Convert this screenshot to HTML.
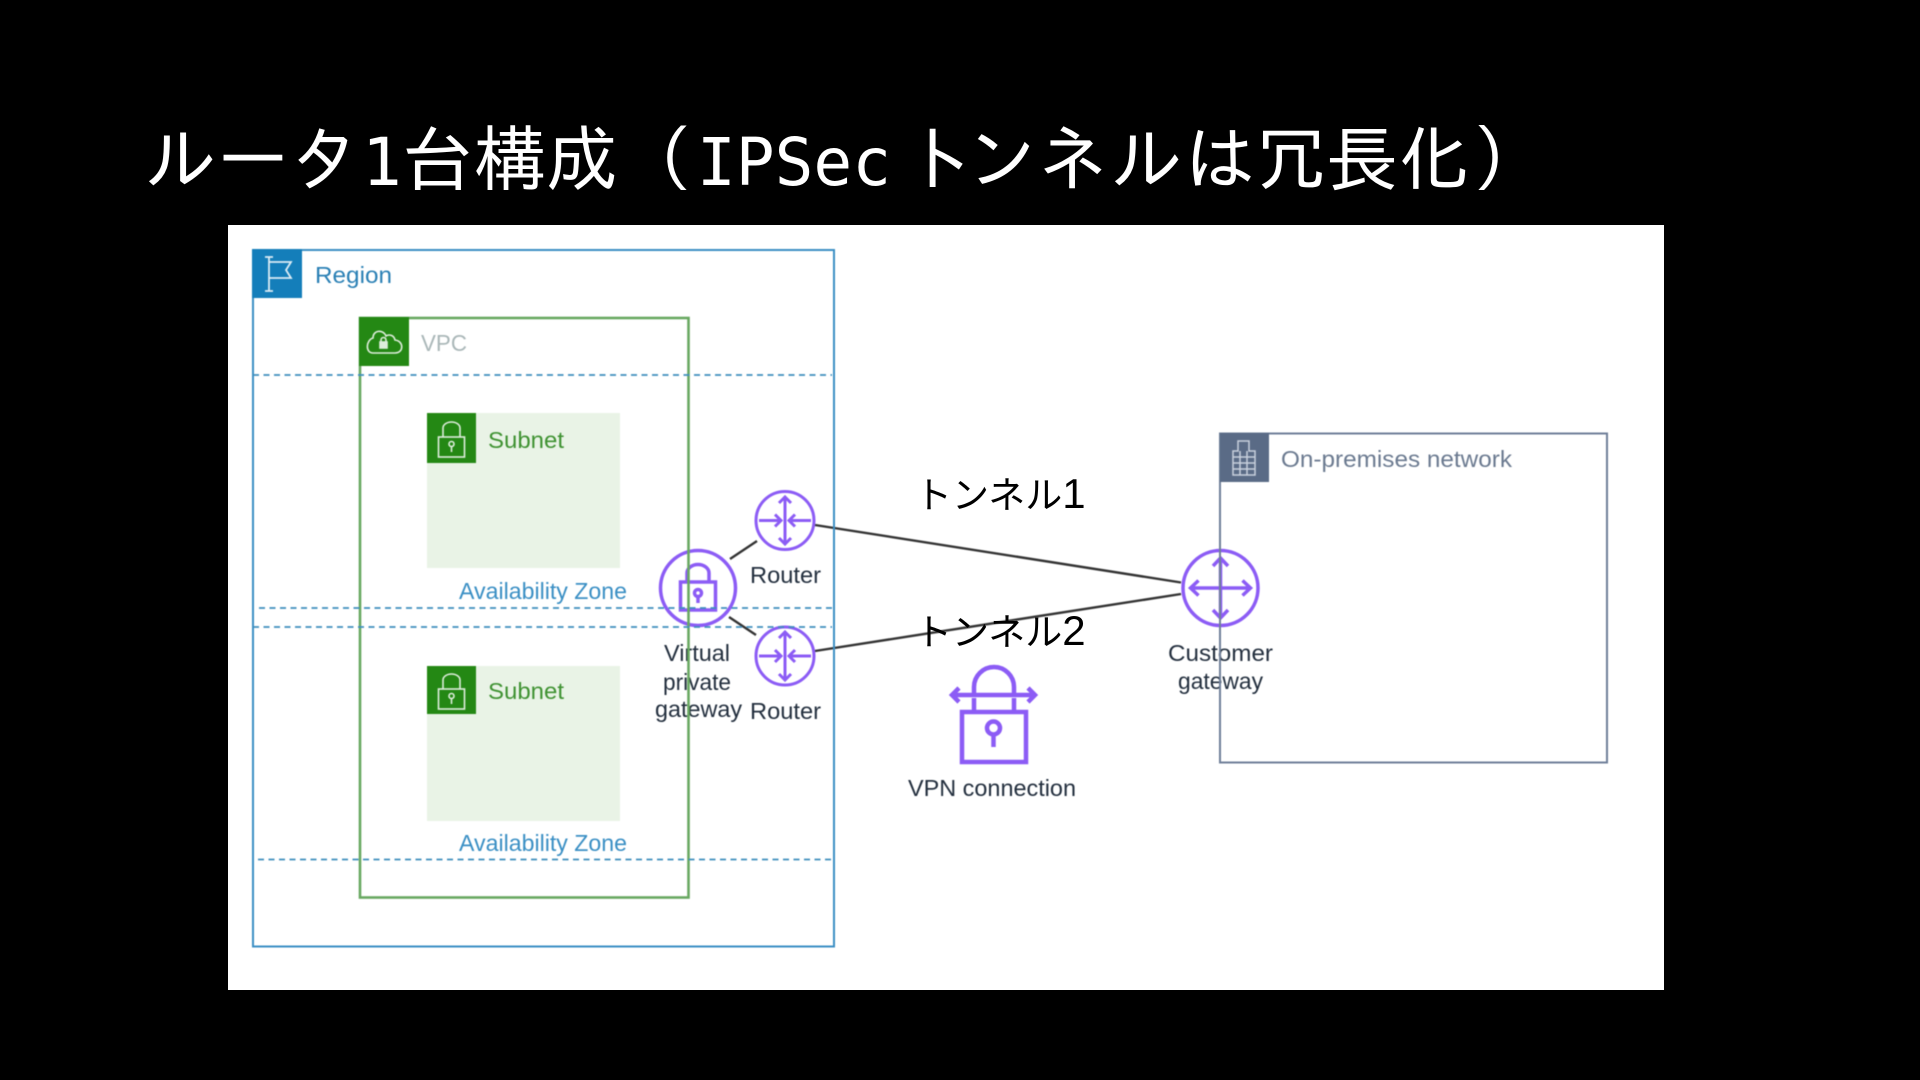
<!DOCTYPE html>
<html lang="ja">
<head>
<meta charset="utf-8">
<title>ルータ1台構成</title>
<style>
html,body{margin:0;padding:0;background:#000;width:1920px;height:1080px;overflow:hidden}
svg{display:block}
.t{font-family:"IPAGothic","Noto Sans CJK JP",sans-serif;font-size:72px;fill:#fff}
.m{font-family:"DejaVu Sans Mono",monospace;font-size:66px;fill:#fff}
.s{font-family:"Liberation Sans",sans-serif;font-size:23.5px}
.k{font-family:"Liberation Sans","Noto Sans CJK JP",sans-serif;font-size:37px;fill:#000}
.d{fill:#232f3e}
.p{fill:none;stroke:#8c5cf5;stroke-width:3}
.w{fill:none;stroke:#fff;stroke-width:1.6;opacity:.85}
</style>
</head>
<body>
<svg width="1920" height="1080" viewBox="0 0 1920 1080" xmlns="http://www.w3.org/2000/svg">
<rect width="1920" height="1080" fill="#000"/>

<!-- Title -->
<text class="t" x="145" y="185">ルータ</text>
<text class="m" x="362" y="185">1</text>
<text class="t" x="402" y="185">台構成</text>
<text class="t" x="620" y="185">（</text>
<text class="m" x="697" y="185" textLength="194" lengthAdjust="spacingAndGlyphs">IPSec</text>
<text class="t" x="904" y="185">ト</text>
<text class="t" x="966" y="185">ン</text>
<text class="t" x="1036" y="185">ネ</text>
<text class="t" x="1111" y="185">ル</text>
<text class="t" x="1184" y="185">は</text>
<text class="t" x="1255" y="185">冗</text>
<text class="t" x="1326" y="185">長</text>
<text class="t" x="1398" y="185">化</text>
<text class="t" x="1473" y="185">)</text>

<!-- Panel -->
<rect x="228" y="225" width="1436" height="765" fill="#fff"/>

<g style="filter:blur(.6px)">
<!-- Subnets -->
<rect x="427" y="413" width="193" height="155" fill="#e9f3e6"/>
<rect x="427" y="666" width="193" height="155" fill="#e9f3e6"/>

<!-- Labels under lines -->
<g class="s">
<text x="315" y="283" fill="#2a80b5" textLength="77" lengthAdjust="spacingAndGlyphs">Region</text>
<text x="421" y="351" fill="#aab7b8" textLength="46" lengthAdjust="spacingAndGlyphs">VPC</text>
<text x="488" y="448" fill="#3f9232" textLength="76" lengthAdjust="spacingAndGlyphs">Subnet</text>
<text x="488" y="699" fill="#3f9232" textLength="76" lengthAdjust="spacingAndGlyphs">Subnet</text>
<text x="459" y="599" fill="#3a8fc4" textLength="168" lengthAdjust="spacingAndGlyphs">Availability Zone</text>
<text x="459" y="851" fill="#3a8fc4" textLength="168" lengthAdjust="spacingAndGlyphs">Availability Zone</text>
<text x="1281" y="467" fill="#6b7a90" textLength="231" lengthAdjust="spacingAndGlyphs">On-premises network</text>
<text class="d" x="750" y="583" textLength="71" lengthAdjust="spacingAndGlyphs">Router</text>
<text class="d" x="750" y="719" textLength="71" lengthAdjust="spacingAndGlyphs">Router</text>
<text class="d" x="664" y="661" textLength="66" lengthAdjust="spacingAndGlyphs">Virtual</text>
<text class="d" x="663" y="690" textLength="68" lengthAdjust="spacingAndGlyphs">private</text>
<text class="d" x="655" y="717" textLength="87" lengthAdjust="spacingAndGlyphs">gateway</text>
<text class="d" x="1168" y="661" textLength="105" lengthAdjust="spacingAndGlyphs">Customer</text>
<text class="d" x="1178" y="689" textLength="85" lengthAdjust="spacingAndGlyphs">gateway</text>
<text class="d" x="908" y="796" textLength="168" lengthAdjust="spacingAndGlyphs">VPN connection</text>
</g>

<!-- Connectors -->
<g stroke="#333" stroke-width="2.4" fill="none">
<line x1="815" y1="525" x2="1181" y2="582.5"/>
<line x1="815" y1="651" x2="1181" y2="594"/>
<line x1="730" y1="559" x2="757" y2="541"/>
<line x1="729" y1="617" x2="756" y2="635"/>
</g>

<!-- Routers -->
<g class="p">
<circle cx="785" cy="520.5" r="29"/>
<path d="M785 497V544M779 503l6-6 6 6M779 538l6 6 6-6"/>
<path d="M759 520.5H781M775 514.5l6 6-6 6M811 520.5H789M795 514.5l-6 6 6 6"/>
<circle cx="785" cy="656" r="29"/>
<path d="M785 632V680M779 638l6-6 6 6M779 674l6 6 6-6"/>
<path d="M759 656H781M775 650l6 6-6 6M811 656H789M795 650l-6 6 6 6"/>
</g>

<!-- VPG -->
<g class="p" style="stroke-width:3.5">
<circle cx="698" cy="588" r="37.5"/>
<rect x="680.500" y="582" width="35" height="28"/>
<path d="M687 582V573a11 8.500 0 0 1 22 0V582"/>
<circle cx="698" cy="593" r="3.500"/>
<path d="M698 596.500V603"/>
</g>

<!-- CGW -->
<g class="p" style="stroke-width:3.5">
<circle cx="1220.500" cy="588" r="37.500"/>
<path d="M1220.500 558V618M1213 566l7.500-8 7.500 8M1213 610l7.500 8 7.500-8"/>
<path d="M1190.500 588H1250.500M1198.500 580.500l-8 7.500 8 7.500M1242.500 580.500l8 7.500-8 7.500"/>
</g>

<!-- VPN icon -->
<g class="p" style="stroke-width:4.500">
<rect x="962" y="712" width="64" height="50"/>
<circle cx="993.500" cy="728" r="6.500"/>
<path d="M993.500 734.500V747"/>
<path d="M952 695H1035M959 688l-7 7 7 7M1028 688l7 7-7 7"/>
<path d="M974 693V687a20 20 0 0 1 40 0V693M974 698V711M1014 698V711"/>
</g>

<!-- Containers -->
<rect x="253" y="250" width="581" height="696.500" fill="none" stroke="#3b8fc4" stroke-width="2"/>
<rect x="360" y="318" width="328.500" height="579.500" fill="none" stroke="#68a860" stroke-width="2.600"/>
<rect x="1220" y="433.500" width="387" height="329" fill="none" stroke="#6f7f99" stroke-width="2"/>

<!-- Dashed AZ lines -->
<g stroke="#3f8fbd" stroke-width="1.800" stroke-dasharray="6 4.500" fill="none">
<line x1="253" y1="375" x2="832" y2="375"/>
<line x1="259" y1="608" x2="834" y2="608"/>
<line x1="253" y1="627" x2="832" y2="627"/>
<line x1="258" y1="859.500" x2="834" y2="859.500"/>
</g>

<!-- Region icon -->
<rect x="252" y="249" width="50" height="49" fill="#147eba"/>
<g class="w" style="stroke-width:1.800">
<path d="M269 257V291M265 291H273M265 257H273M269 262H291L286 270 291 278H269"/>
</g>

<!-- VPC icon -->
<rect x="359" y="317" width="50" height="49" fill="#248814"/>
<g class="w">
<path d="M373 353H395C404 353 404 341 395 340 394 335 389 334 386 336 383 329 373 330 373 338 366 340 365 353 373 353Z"/>
<rect x="380" y="342" width="7" height="6" fill="#fff"/>
<path d="M381 342V340a2.500 2.500 0 0 1 5 0V342"/>
</g>

<!-- Subnet icons -->
<rect x="427" y="413" width="49" height="50" fill="#248814"/>
<g class="w">
<rect x="438.500" y="437" width="26" height="20"/>
<path d="M443 437V428a8.500 6 0 0 1 17 0V437"/>
<circle cx="451.500" cy="444" r="2.500"/><path d="M451.500 446.500V452"/>
</g>
<rect x="427" y="666" width="49" height="48" fill="#248814"/>
<g class="w">
<rect x="438.500" y="689" width="26" height="20"/>
<path d="M443 689V680a8.500 6 0 0 1 17 0V689"/>
<circle cx="451.500" cy="696" r="2.500"/><path d="M451.500 698.500V704"/>
</g>

<!-- On-premises icon -->
<rect x="1220" y="433" width="49" height="49" fill="#5a6b86"/>
<g fill="none" stroke="#c8d0dc" stroke-width="1.500">
<path d="M1233 475V451H1238V441H1249V451H1255V475Z"/>
<path d="M1233 457H1255M1233 463H1255M1233 469H1255M1240 451V475M1247 451V475"/>
</g>
</g>

<!-- Tunnel labels -->
<text class="k" x="915" y="508">トンネル<tspan font-size="42">1</tspan></text>
<text class="k" x="915" y="645">トンネル<tspan font-size="42">2</tspan></text>
</svg>
</body>
</html>
